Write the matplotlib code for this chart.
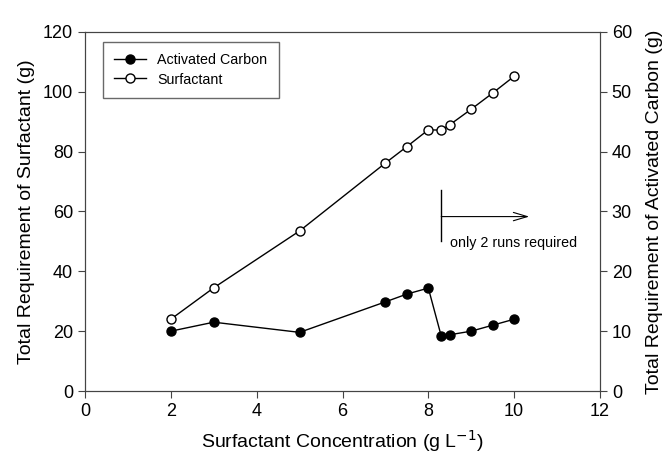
import matplotlib.pyplot as plt

plt.rcParams['font.family'] = ['Liberation Sans', 'DejaVu Sans']

# Data
conc_surf = [2, 3, 5, 7, 7.5, 8, 8.3, 8.5, 9, 9.5, 10]
surfactant = [24, 34.5, 53.5, 76.2, 81.7, 87.3, 87.2, 89, 94.2, 99.6, 105.2]
conc_ac = [2, 3, 5, 7, 7.5, 8, 8.3, 8.5, 9, 9.5, 10]
carbon = [10.0, 11.5, 9.8, 14.9, 16.2, 17.2, 9.2, 9.4, 10.0, 11.0, 12.0]

fig = plt.figure(figsize=(6.72, 4.53), dpi=100)
ax = fig.add_axes([85 / 672, 62 / 453, 515 / 672, 359 / 453])
ax2 = ax.twinx()

l_surf, = ax.plot(conc_surf, surfactant, '-o', color='black', mfc='white', mec='black',
                  ms=6.5, lw=1, mew=1, label='Surfactant')
l_ac, = ax2.plot(conc_ac, carbon, '-o', color='black', ms=6.5, lw=1, label='Activated Carbon')

ax.set_xlim(0, 12)
ax.set_ylim(0, 120)
ax2.set_ylim(0, 60)
ax.set_xticks(range(0, 13, 2))
ax.set_yticks(range(0, 121, 20))
ax2.set_yticks(range(0, 61, 10))

for a in (ax, ax2):
    a.tick_params(labelsize=13, direction='out', length=5, color='#444444')
    for s in a.spines.values():
        s.set_color('#444444')

ax.set_xlabel('Surfactant Concentration (g L$^{-1}$)', fontsize=14, labelpad=6)
ax.set_ylabel('Total Requirement of Surfactant (g)', fontsize=14, labelpad=6)
ax2.set_ylabel('Total Requirement of Activated Carbon (g)', fontsize=14, labelpad=10)

# annotation: vertical marker + arrow
ax.plot([8.3, 8.3], [50, 67.2], color='black', lw=1)
ax.annotate('', xy=(10.35, 58.3), xytext=(8.3, 58.3),
            arrowprops=dict(arrowstyle='->,head_length=1.0,head_width=0.3', lw=0.8,
                            color='black', shrinkA=0, shrinkB=0))
ax.text(8.5, 49.5, 'only 2 runs required', fontsize=10.3, va='center', ha='left')

ax.legend([l_ac, l_surf], ['Activated Carbon', 'Surfactant'], loc='upper left',
          bbox_to_anchor=(0.035, 0.972), borderaxespad=0, fontsize=10.3, frameon=True,
          fancybox=False, edgecolor='#444444', handlelength=2.2, borderpad=0.8,
          labelspacing=0.35)

fig.savefig('out.png', dpi=100)
